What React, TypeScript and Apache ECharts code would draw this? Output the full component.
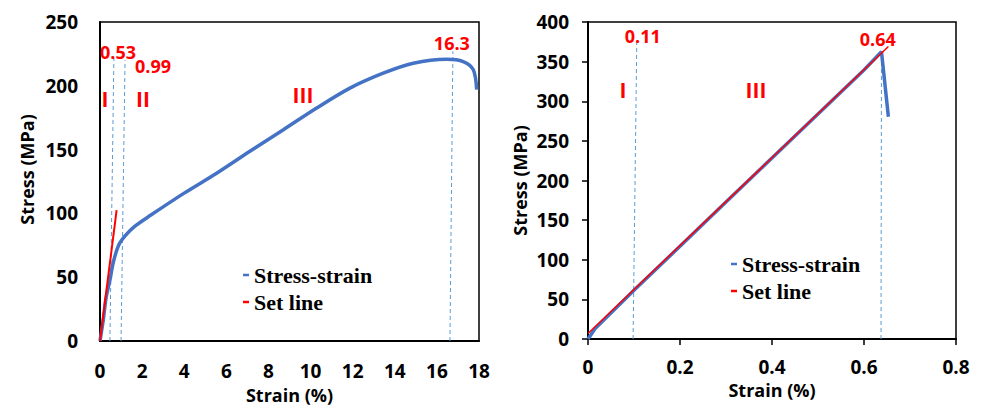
import { useEffect, useRef } from "react";
import * as echarts from "echarts";

// ---- Left chart data (Strain %, Stress MPa) ----
const leftCurve: number[][] = [
  [0, 0], [0.16, 17], [0.28, 33], [0.475, 48], [0.63, 61.5], [0.87, 74.5],
  [1.19, 82.3], [1.66, 90], [2.4, 98.5], [3.96, 115.5], [5.54, 131.5],
  [7.12, 148.7], [8.71, 165.6], [10.29, 182.6], [11.87, 198.2], [13.45, 209.9],
  [14.88, 217.7], [16.46, 220.8], [17.25, 219], [17.73, 212.5], [17.89, 197],
];
const leftSetLine: number[][] = [[0, 0], [0.79, 102.6]];
const leftGuideA: number[][] = [[0.47, 0], [0.66, 222]];
const leftGuideB: number[][] = [[1.0, 0], [1.19, 220]];
const leftGuideC: number[][] = [[16.62, 0], [16.76, 227]];
const leftNoteTexts = ["0.53", "0.99", "16.3"];
const leftNotePos: number[][] = [[0.855, 226.6], [2.52, 215.6], [16.71, 233.6]];
const leftZoneTexts = ["I", "II", "III"];
const leftZonePos: number[][] = [[0.24, 190], [2.04, 190], [9.64, 193]];

// ---- Right chart data ----
const rightCurve: number[][] = [
  [0, 0], [0.006, 5], [0.015, 13], [0.1, 61.5], [0.2, 117], [0.3, 173],
  [0.4, 228.5], [0.5, 284], [0.6, 339.5], [0.638, 362.5], [0.653, 280.5],
];
const rightSetLine: number[][] = [[0, 7], [0.653, 369]];
const rightGuideA: number[][] = [[0.098, 0], [0.106, 374]];
const rightGuideB: number[][] = [[0.637, 0], [0.638, 360]];
const rightNoteTexts = ["0.11", "0.64"];
const rightNotePos: number[][] = [[0.119, 382.3], [0.63, 378.5]];
const rightZoneTexts = ["I", "III"];
const rightZonePos: number[][] = [[0.076, 314], [0.365, 314]];

const legendNames = ["Stress-strain", "Set line"];

const BLUE = "#4472C4";
const RED = "#FF0000";
const GUIDE = "#5B9BD5";
const SANS = "Open Sans";

function App() {
  const ref = useRef<HTMLDivElement>(null);
  useEffect(() => {
    if (!ref.current) return;
    const chart = echarts.init(ref.current, undefined, { renderer: "svg" });

    const axisLabel = { color: "#000", fontWeight: "bold" as const, fontFamily: SANS, fontSize: 19 };
    const nameStyle = { color: "#000", fontWeight: "bold" as const, fontFamily: SANS, fontSize: 18 };
    const legendText = { fontFamily: "Liberation Serif", fontWeight: "bold" as const, fontSize: 22, color: "#000" };

    const guide = (data: number[][], xi: number) => ({
      type: "line", xAxisIndex: xi, yAxisIndex: xi, data, symbol: "none",
      lineStyle: { color: GUIDE, width: 1, type: [4, 3] }, silent: true, z: 1,
    });
    const notes = (texts: string[], pos: number[][], xi: number, size: number) => ({
      type: "scatter", xAxisIndex: xi, yAxisIndex: xi, symbolSize: 0, silent: true,
      itemStyle: { opacity: 1 },
      data: texts.map((t, i) => ({ name: t, value: pos[i] })),
      label: {
        show: true, position: "inside", formatter: "{b}", color: RED, opacity: 1,
        textBorderWidth: 0, fontWeight: "bold", fontFamily: SANS, fontSize: size,
      },
      z: 5,
    });

    chart.setOption({
      animation: false,
      backgroundColor: "#fff",
      grid: [
        { left: 100, right: 505, top: 22, bottom: 67, show: true, borderColor: "#000", borderWidth: 1.5, backgroundColor: "transparent" },
        { left: 588, right: 28, top: 22, bottom: 70, show: true, borderColor: "#000", borderWidth: 1.5, backgroundColor: "transparent" },
      ],
      xAxis: [
        {
          gridIndex: 0, type: "value", min: 0, max: 18, interval: 2,
          axisLine: { show: true, lineStyle: { color: "#000", width: 2 } },
          axisTick: { show: false }, splitLine: { show: false },
          axisLabel: { ...axisLabel, margin: 20 },
          name: "Strain (%)", nameLocation: "middle", nameGap: 45, nameTextStyle: nameStyle,
        },
        {
          gridIndex: 1, type: "value", min: 0, max: 0.8, interval: 0.2,
          axisLine: { show: true, lineStyle: { color: "#000", width: 2 } },
          axisTick: { show: true, inside: false, length: 6, lineStyle: { color: "#000", width: 1.5 } },
          splitLine: { show: false },
          axisLabel: { ...axisLabel, margin: 18 },
          name: "Strain (%)", nameLocation: "middle", nameGap: 39, nameTextStyle: nameStyle,
        },
      ],
      yAxis: [
        {
          gridIndex: 0, type: "value", min: 0, max: 250, interval: 50,
          axisLine: { show: true, lineStyle: { color: "#000", width: 2 } },
          axisTick: { show: false }, splitLine: { show: false },
          axisLabel: { ...axisLabel, margin: 22 },
          name: "Stress (MPa)", nameLocation: "middle", nameGap: 64,
          nameTextStyle: { ...nameStyle, padding: [0, 0, 0, 24] },
        },
        {
          gridIndex: 1, type: "value", min: 0, max: 400, interval: 50,
          axisLine: { show: true, lineStyle: { color: "#000", width: 2 } },
          axisTick: { show: true, inside: false, length: 6, lineStyle: { color: "#000", width: 1.5 } },
          splitLine: { show: false },
          axisLabel: { ...axisLabel, margin: 19 },
          name: "Stress (MPa)", nameLocation: "middle", nameGap: 59, nameTextStyle: nameStyle,
        },
      ],
      legend: [
        {
          data: legendNames, orient: "vertical", left: 238, top: 259, itemGap: 5,
          itemWidth: 6, itemHeight: 2.5, icon: "rect", selectedMode: false, textStyle: legendText,
        },
        {
          data: legendNames, orient: "vertical", left: 726, top: 248, itemGap: 5,
          itemWidth: 6, itemHeight: 2.5, icon: "rect", selectedMode: false, textStyle: legendText,
        },
      ],
      series: [
        guide(leftGuideA, 0), guide(leftGuideB, 0), guide(leftGuideC, 0),
        {
          name: "Stress-strain", type: "line", xAxisIndex: 0, yAxisIndex: 0, data: leftCurve,
          symbol: "none", smooth: 0.3, color: BLUE, lineStyle: { color: BLUE, width: 3.5 }, z: 2,
        },
        {
          name: "Set line", type: "line", xAxisIndex: 0, yAxisIndex: 0, data: leftSetLine,
          symbol: "none", color: RED, lineStyle: { color: RED, width: 2 }, z: 3,
        },
        notes(leftNoteTexts, leftNotePos, 0, 18),
        notes(leftZoneTexts, leftZonePos, 0, 21),

        guide(rightGuideA, 1), guide(rightGuideB, 1),
        {
          name: "Stress-strain", type: "line", xAxisIndex: 1, yAxisIndex: 1, data: rightCurve,
          symbol: "none", color: BLUE, lineStyle: { color: BLUE, width: 3.5 }, z: 2,
        },
        {
          name: "Set line", type: "line", xAxisIndex: 1, yAxisIndex: 1, data: rightSetLine,
          symbol: "none", color: RED, lineStyle: { color: RED, width: 1.5 }, z: 3,
        },
        notes(rightNoteTexts, rightNotePos, 1, 18),
        notes(rightZoneTexts, rightZonePos, 1, 21),
      ],
    });
    return () => chart.dispose();
  }, []);

  return (
    <div
      ref={ref}
      style={{ position: "absolute", left: 0, top: 0, width: 984, height: 409, background: "#fff" }}
    />
  );
}

export default App;
